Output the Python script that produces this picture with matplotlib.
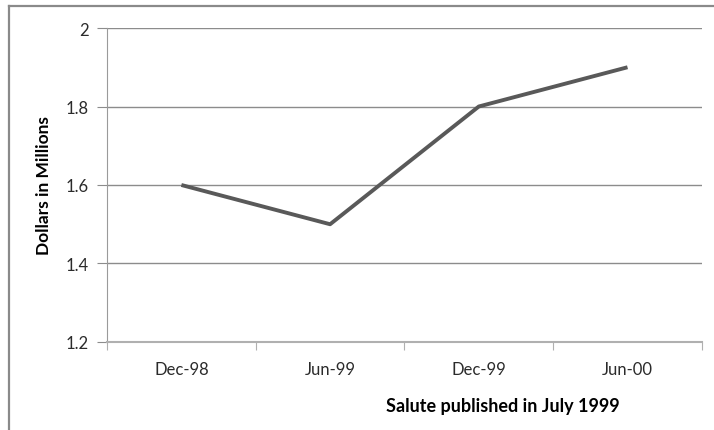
import matplotlib.pyplot as plt
from matplotlib.lines import Line2D

# Chart data
periods = ['Dec-98', 'Jun-99', 'Dec-99', 'Jun-00']
dollars_millions = [1.6, 1.5, 1.8, 1.9]
y_ticks = [1.2, 1.4, 1.6, 1.8, 2.0]
y_tick_labels = ['1.2', '1.4', '1.6', '1.8', '2']

plt.rcParams['font.family'] = ['Lato', 'DejaVu Sans']

fig = plt.figure(figsize=(7.14, 4.31), dpi=100)
ax = fig.add_axes([0.1499, 0.2042, 0.8331, 0.7285])

# Line series, categories centered in their bins
x = [i + 0.5 for i in range(len(periods))]
ax.plot(x, dollars_millions, color='#595959', linewidth=2.8, solid_capstyle='butt')

ax.set_xlim(0, len(periods))
ax.set_ylim(1.2, 2.0)

# Gridlines
for yv in y_ticks[1:]:
    ax.axhline(yv, color='#8c8c8c', linewidth=1.0, zorder=0)

ax.set_yticks(y_ticks)
ax.set_yticklabels(y_tick_labels)
ax.tick_params(axis='y', length=7, color='#8c8c8c', labelsize=12, labelcolor='#2b2b2b', pad=6)

# Category ticks sit between categories
ax.set_xticks(range(len(periods) + 1))
ax.set_xticklabels([])
ax.set_xticks(x, minor=True)
ax.set_xticklabels(periods, minor=True)
ax.tick_params(axis='x', which='major', length=6, color='#b0b0b0')
ax.tick_params(axis='x', which='minor', length=0, labelsize=12, labelcolor='#2b2b2b', pad=14)

for side in ['top', 'right']:
    ax.spines[side].set_visible(False)
ax.spines['left'].set_color('#9a9a9a')
ax.spines['bottom'].set_color('#b0b0b0')
ax.spines['bottom'].set_linewidth(1.5)

ax.set_ylabel('Dollars in Millions', fontsize=12.5, fontweight='bold', labelpad=10)
fig.text(0.704, 0.058, 'Salute published in July 1999', fontsize=13,
         fontweight='bold', ha='center', va='center')

# Outer chart border (top and left visible in the crop)
fig.add_artist(Line2D([8.5 / 714, 1], [1 - 6.5 / 431, 1 - 6.5 / 431],
                      transform=fig.transFigure, color='#8a8a8a', linewidth=1.6))
fig.add_artist(Line2D([8.5 / 714, 8.5 / 714], [0, 1 - 6.5 / 431],
                      transform=fig.transFigure, color='#8a8a8a', linewidth=1.6))

fig.savefig('out.png', dpi=100)
